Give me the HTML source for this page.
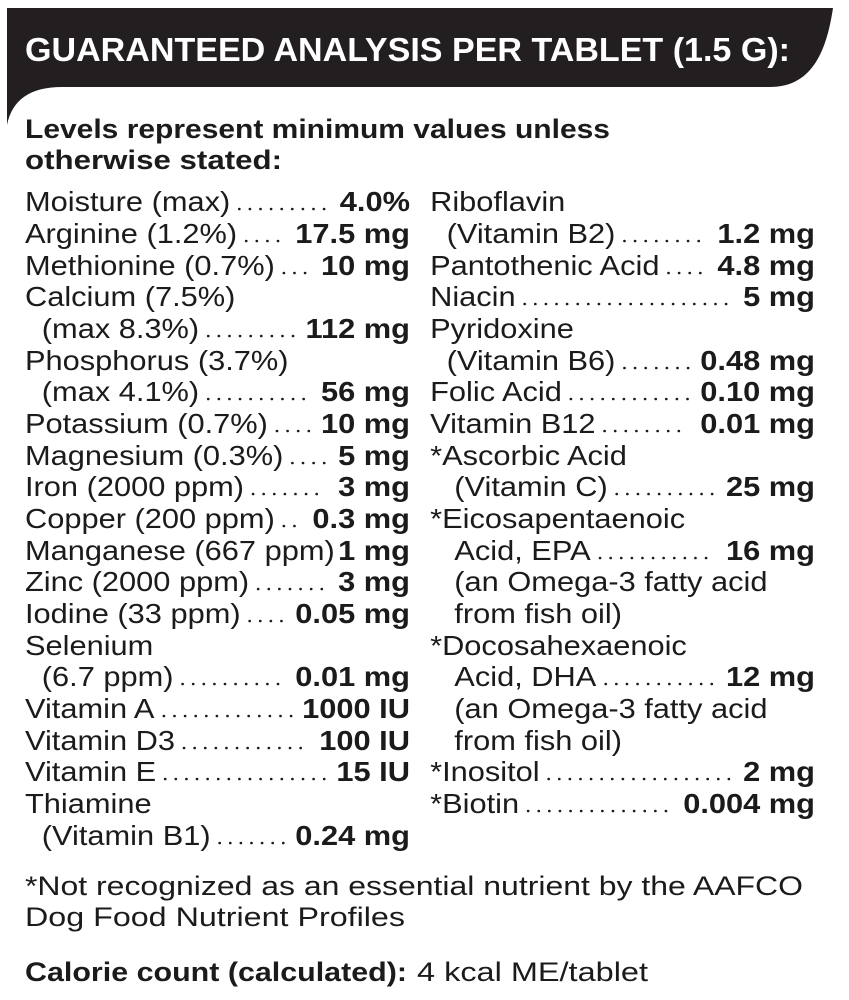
<!DOCTYPE html>
<html><head><meta charset="utf-8"><style>
html,body{margin:0;padding:0;background:#fff;}
svg{display:block}
text{font-family:"Liberation Sans",Arial,sans-serif;fill:#1c1a1a}
.b{font-weight:bold}
</style></head><body>
<svg id="s" width="849" height="1000" viewBox="0 0 849 1000" xmlns="http://www.w3.org/2000/svg">
<path d="M7 8 H833 C826 55 810 87 770 87 H62 C30 87 12 100 7 125 Z" fill="#231f20"/>
<text x="25" y="61" class="b" font-size="33" textLength="765" lengthAdjust="spacingAndGlyphs" style="fill:#fff">GUARANTEED ANALYSIS PER TABLET (1.5 G):</text>
<text x="25" y="138" class="b" font-size="27" textLength="585" lengthAdjust="spacingAndGlyphs">Levels represent minimum values unless</text>
<text x="25" y="169" class="b" font-size="27" textLength="257" lengthAdjust="spacingAndGlyphs">otherwise stated:</text>

<g id="dots" stroke="#1c1a1a" stroke-width="2.6" stroke-linecap="round" stroke-dasharray="0.1 10.5" fill="none"></g>

<g transform="scale(1.1,1)" font-size="28">
<g class="L">
<text x="22.7" y="211">Moisture (max)</text>
<text x="22.7" y="243">Arginine (1.2%)</text>
<text x="22.7" y="275">Methionine (0.7%)</text>
<text x="22.7" y="306">Calcium (7.5%)</text>
<text x="38" y="338">(max 8.3%)</text>
<text x="22.7" y="370">Phosphorus (3.7%)</text>
<text x="38" y="401">(max 4.1%)</text>
<text x="22.7" y="433">Potassium (0.7%)</text>
<text x="22.7" y="465">Magnesium (0.3%)</text>
<text x="22.7" y="496">Iron (2000 ppm)</text>
<text x="22.7" y="528">Copper (200 ppm)</text>
<text x="22.7" y="560">Manganese (667 ppm)</text>
<text x="22.7" y="591">Zinc (2000 ppm)</text>
<text x="22.7" y="623">Iodine (33 ppm)</text>
<text x="22.7" y="655">Selenium</text>
<text x="38" y="686">(6.7 ppm)</text>
<text x="22.7" y="718">Vitamin A</text>
<text x="22.7" y="750">Vitamin D3</text>
<text x="22.7" y="781">Vitamin E</text>
<text x="22.7" y="813">Thiamine</text>
<text x="38" y="845">(Vitamin B1)</text>
</g>
<g class="LV" text-anchor="end">
<text x="372.7" y="211" class="b">4.0%</text>
<text x="372.7" y="243" class="b">17.5 mg</text>
<text x="372.7" y="275" class="b">10 mg</text>
<text x="372.7" y="338" class="b">112 mg</text>
<text x="372.7" y="401" class="b">56 mg</text>
<text x="372.7" y="433" class="b">10 mg</text>
<text x="372.7" y="465" class="b">5 mg</text>
<text x="372.7" y="496" class="b">3 mg</text>
<text x="372.7" y="528" class="b">0.3 mg</text>
<text x="372.7" y="560" class="b">1 mg</text>
<text x="372.7" y="591" class="b">3 mg</text>
<text x="372.7" y="623" class="b">0.05 mg</text>
<text x="372.7" y="686" class="b">0.01 mg</text>
<text x="372.7" y="718" class="b">1000 IU</text>
<text x="372.7" y="750" class="b">100 IU</text>
<text x="372.7" y="781" class="b">15 IU</text>
<text x="372.7" y="845" class="b">0.24 mg</text>
</g>
<g class="R">
<text x="391" y="211">Riboflavin</text>
<text x="406" y="243">(Vitamin B2)</text>
<text x="391" y="275">Pantothenic Acid</text>
<text x="391" y="306">Niacin</text>
<text x="391" y="338">Pyridoxine</text>
<text x="406" y="370">(Vitamin B6)</text>
<text x="391" y="401">Folic Acid</text>
<text x="391" y="433">Vitamin B12</text>
<text x="391" y="465">*Ascorbic Acid</text>
<text x="413" y="496">(Vitamin C)</text>
<text x="391" y="528">*Eicosapentaenoic</text>
<text x="413" y="560">Acid, EPA</text>
<text x="413" y="591">(an Omega-3 fatty acid</text>
<text x="413" y="623">from fish oil)</text>
<text x="391" y="655">*Docosahexaenoic</text>
<text x="413" y="686">Acid, DHA</text>
<text x="413" y="718">(an Omega-3 fatty acid</text>
<text x="413" y="750">from fish oil)</text>
<text x="391" y="781">*Inositol</text>
<text x="391" y="813">*Biotin</text>
</g>
<g class="RV" text-anchor="end">
<text x="740.9" y="243" class="b">1.2 mg</text>
<text x="740.9" y="275" class="b">4.8 mg</text>
<text x="740.9" y="306" class="b">5 mg</text>
<text x="740.9" y="370" class="b">0.48 mg</text>
<text x="740.9" y="401" class="b">0.10 mg</text>
<text x="740.9" y="433" class="b">0.01 mg</text>
<text x="740.9" y="496" class="b">25 mg</text>
<text x="740.9" y="560" class="b">16 mg</text>
<text x="740.9" y="686" class="b">12 mg</text>
<text x="740.9" y="781" class="b">2 mg</text>
<text x="740.9" y="813" class="b">0.004 mg</text>
</g>
</g>

<text x="25" y="895" font-size="27" textLength="778" lengthAdjust="spacingAndGlyphs">*Not recognized as an essential nutrient by the AAFCO</text>
<text x="25" y="926" font-size="27" textLength="380" lengthAdjust="spacingAndGlyphs">Dog Food Nutrient Profiles</text>
<text x="25" y="981" font-size="27" class="b" textLength="382" lengthAdjust="spacingAndGlyphs">Calorie count (calculated):</text>
<text x="417" y="981" font-size="27" textLength="231" lengthAdjust="spacingAndGlyphs">4 kcal ME/tablet</text>
</svg>
<script>
(function(){
var ns="http://www.w3.org/2000/svg",d=document.getElementById("dots");
function run(lc,vc){
 var L=document.querySelectorAll("."+lc+" text"),V=document.querySelectorAll("."+vc+" text");
 V.forEach(function(v){
  var y=v.getAttribute("y"),lab=null;
  L.forEach(function(l){if(l.getAttribute("y")===y)lab=l;});
  if(!lab)return;
  var a=lab.getBBox(),b=v.getBBox();
  var x1=(a.x+a.width)*1.1+9,x2=b.x*1.1-11;
  if(x2-x1<2)return;
  var ln=document.createElementNS(ns,"line");
  ln.setAttribute("x1",x1);ln.setAttribute("x2",x2);
  ln.setAttribute("y1",+y-2);ln.setAttribute("y2",+y-2);
  d.appendChild(ln);
 });
}
run("L","LV");run("R","RV");
})();
</script>
</body></html>
